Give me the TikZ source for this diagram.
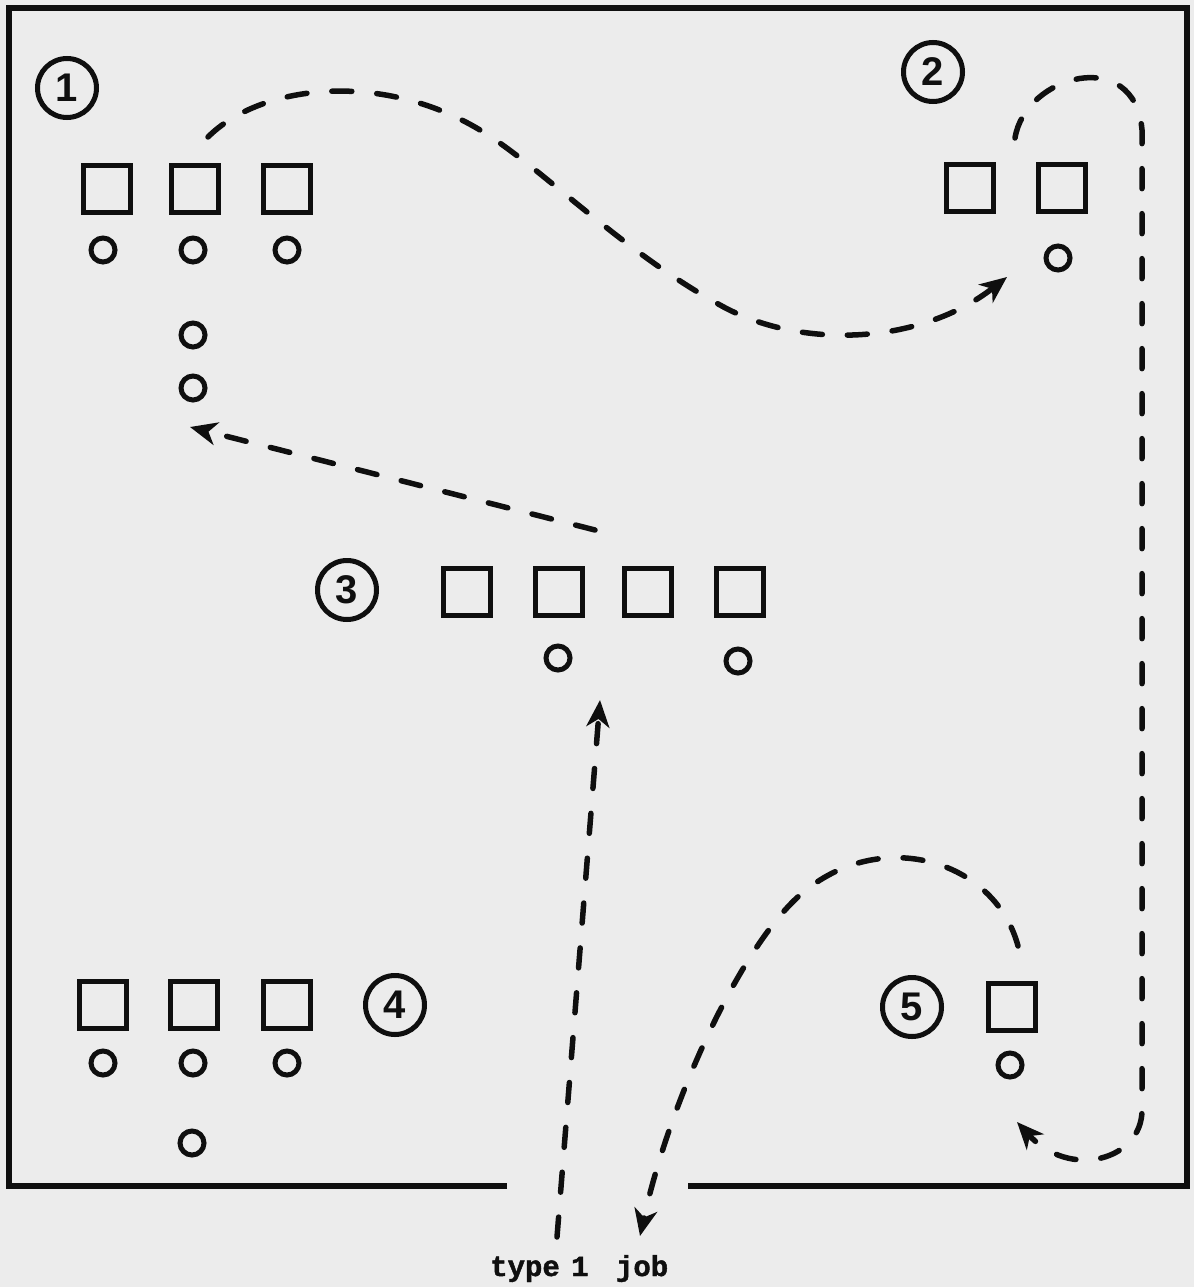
\documentclass[tikz,border=0pt]{standalone}
\usepackage{fontspec}
\setmainfont{Liberation Sans}
\newfontfamily\monob{Liberation Mono}[BoldFeatures={FakeBold=1.5}]
\usetikzlibrary{arrows.meta}
\definecolor{paper}{RGB}{236,236,236}
\definecolor{ink}{RGB}{15,15,15}
\tikzset{
  box/.style={draw=ink,line width=5pt,minimum size=47pt,inner sep=0pt},
  dot/.style={draw=ink,circle,line width=5pt,minimum size=24pt,inner sep=0pt},
  numc/.style={draw=ink,circle,line width=5pt,minimum size=59pt,inner sep=0pt,
    text=ink,font=\bfseries\fontsize{40}{40}\selectfont},
  flow/.style={draw=ink,line width=5.5pt,line cap=round,dash pattern=on 20pt off 25pt,
    -{Stealth[length=27pt,width=23pt,inset=8pt]}},
  frameline/.style={draw=ink,line width=5.5pt}
}
\begin{document}
\begin{tikzpicture}[x=1pt,y=-1pt]
\useasboundingbox (0,0) rectangle (1194,1287);
\fill[paper] (0,0) rectangle (1194,1287);
% frame
\coordinate (fa) at (507,1186);
\coordinate (fb) at (688,1186);
\draw[frameline] (fa) -- (9,1186) -- (9,8) -- (1187,8) -- (1187,1186) -- (fb);
% group 1
\node[numc] (n1) at (67,88) {1};
\node[box] (s11) at (107,189) {};
\node[box] (s12) at (195,189) {};
\node[box] (s13) at (287,189) {};
\node[dot] (c11) at (103,250) {};
\node[dot] (c12) at (193,250) {};
\node[dot] (c13) at (287,250) {};
\node[dot] (c14) at (193,335) {};
\node[dot] (c15) at (193,388) {};
% group 2
\node[numc] (n2) at (933,72) {2};
\node[box] (s21) at (970,188) {};
\node[box] (s22) at (1062,188) {};
\node[dot] (c21) at (1058,258) {};
% group 3
\node[numc] (n3) at (347,590) {3};
\node[box] (s31) at (467,592) {};
\node[box] (s32) at (559,592) {};
\node[box] (s33) at (648,592) {};
\node[box] (s34) at (740,592) {};
\node[dot] (c31) at (558,658) {};
\node[dot] (c32) at (738,661) {};
% group 4
\node[box] (s41) at (103,1005) {};
\node[box] (s42) at (194,1005) {};
\node[box] (s43) at (287,1005) {};
\node[numc] (n4) at (395,1005) {4};
\node[dot] (c41) at (103,1063) {};
\node[dot] (c42) at (193,1063) {};
\node[dot] (c43) at (287,1063) {};
\node[dot] (c44) at (192,1143) {};
% group 5
\node[numc] (n5) at (912,1007) {5};
\node[box] (s51) at (1012,1007) {};
\node[dot] (c51) at (1010,1065) {};
% label
\node[text=ink,font=\monob\bfseries\fontsize{29}{29}\selectfont,anchor=base west,inner sep=0pt] (lbl) at (490,1276) {type\kern-6pt{} 1 \kern10pt job};
% connector end points
\coordinate (a1s) at (208,137);
\coordinate (a1e) at (1007,277);
\coordinate (a2s) at (1015,138);
\coordinate (a2e) at (1017,1122);
\coordinate (a3s) at (595,530);
\coordinate (a3e) at (190,427);
\coordinate (a4s) at (557,1237);
\coordinate (a4e) at (600,700);
\coordinate (a5s) at (1018,946);
\coordinate (a5e) at (640,1236);
% connectors
\draw[flow] (a1s) .. controls (260,85) and (380,70) .. (480,130)
  .. controls (540,166) and (620,250) .. (720,305)
  .. controls (800,350) and (920,345) .. (a1e);
\draw[flow] (a2s) .. controls (1025,75) and (1135,45) .. (1142,130)
  -- (1142,1110) .. controls (1142,1160) and (1070,1180) .. (a2e);
\draw[flow] (a3s) -- (a3e);
\draw[flow] (a4s) -- (a4e);
\draw[flow] (a5s) .. controls (995,860) and (880,825) .. (800,895)
  .. controls (740,948) and (670,1100) .. (a5e);
\end{tikzpicture}
\end{document}
